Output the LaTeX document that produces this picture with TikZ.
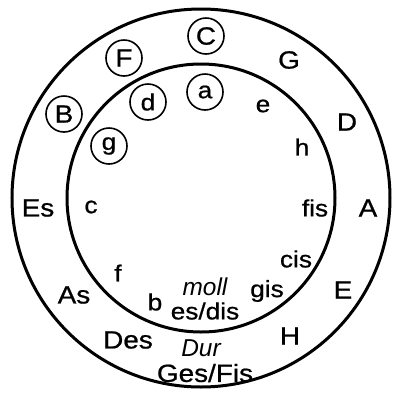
\documentclass[tikz,border=0pt]{standalone}
\usepackage{fontspec}
\setmainfont{Liberation Sans}[FakeStretch=1.12,FakeBold=0.8]
\newfontfamily\lightit{Liberation Sans}[ItalicFont=* Italic]
\begin{document}
\begin{tikzpicture}[x=1bp,y=-1bp,
  big/.style={font=\fontsize{25}{25}\selectfont, inner sep=0pt},
  small/.style={font=\fontsize{23.5}{23.5}\selectfont, inner sep=0pt},
  mode/.style={font=\fontsize{24.5}{24.5}\selectfont\lightit\itshape, inner sep=0pt},
  ringed/.style={draw, circle, line width=1.6bp, minimum size=36bp, inner sep=0pt},
  ring/.style={line width=3bp}]
\useasboundingbox (0,0) rectangle (393,396);
\coordinate (O) at (201,198);
\draw[ring] (O) circle[radius=189];
\draw[ring] (O) circle[radius=134];
% outer ring (major)
\node[big,ringed] (C) at (206,36) {C};
\node[big] (G) at (289,60) {G};
\node[big] (D) at (347,122) {D};
\node[big] (A) at (368,208) {A};
\node[big] (E) at (343,290) {E};
\node[big] (H) at (290,336) {H};
\node[mode] (Dur) at (201,348) {Dur};
\node[big] (GesFis) at (205,373) {Ges/Fis};
\node[big] (Des) at (128,340) {Des};
\node[big] (As) at (74,295) {As};
\node[big] (Es) at (38,208) {Es};
\node[big,ringed] (B) at (64,114) {B};
\node[big,ringed] (F) at (124,58) {F};
% inner ring (minor)
\node[small,ringed] (a) at (205,92) {a};
\node[small] (e) at (263,106) {e};
\node[small] (h) at (302,147) {h};
\node[small] (fis) at (315,208) {fis};
\node[small] (cis) at (296,259) {cis};
\node[small] (gis) at (267,291) {gis};
\node[mode] (moll) at (205,287) {moll};
\node[small] (esdis) at (205,311) {es/dis};
\node[small] (b) at (155,302) {b};
\node[small] (f) at (118,273) {f};
\node[small] (c) at (91,207) {c};
\node[small,ringed] (g) at (109,146) {g};
\node[small,ringed] (d) at (148,102) {d};
\end{tikzpicture}
\end{document}
